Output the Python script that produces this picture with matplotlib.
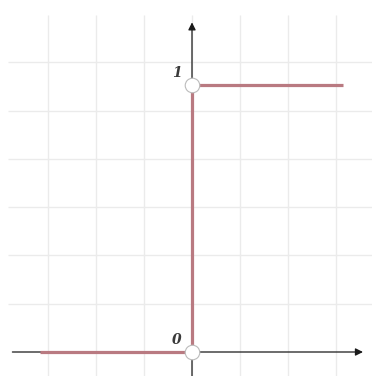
import matplotlib.pyplot as plt
import numpy as np

# step function: 0 for x < 0, 1 for x > 0
x_left = [-3.17, 0]
y_left = [0, 0]
x_right = [0, 3.15]
y_right = [1, 1]
x_jump = [0, 0]
y_jump = [0, 1]
open_x = [0, 0]
open_y = [0, 1]
labels = ['0', '1']

fig = plt.figure(figsize=(3.72, 3.76), dpi=100)
ax = fig.add_axes([0, 0, 1, 1])

unit = 48.3 / 267  # grid step in y units
ax.set_xlim(-4.0, 3.75)
ax.set_ylim(-24 / 267, 352 / 267)

# faint grid
grid_top = 337 / 267
grid_left = -3.83
ax.vlines(np.arange(-3, 4), -0.2, grid_top, color='#ebebeb', lw=1.0, zorder=0)
ax.hlines([k * unit for k in range(1, 7)], grid_left, 4, color='#ebebeb', lw=1.0, zorder=0)

# axes with arrows
ax.annotate('', xy=(3.62, 0), xytext=(-3.8, 0),
            arrowprops=dict(arrowstyle='-|>', color='#1a1a1a', lw=0.9, mutation_scale=11))
ax.annotate('', xy=(0, 1.245), xytext=(0, -0.1),
            arrowprops=dict(arrowstyle='-|>', color='#1a1a1a', lw=0.9, mutation_scale=11))

red = '#b97a81'
ax.plot(x_left, y_left, color=red, lw=2.3, solid_capstyle='butt', zorder=3)
ax.plot(x_right, y_right, color=red, lw=2.3, solid_capstyle='butt', zorder=3)
ax.plot(x_jump, y_jump, color=red, lw=2.3, solid_capstyle='butt', zorder=3)
ax.scatter(open_x, open_y, s=110, facecolor='white', edgecolor='#bbbbbb', lw=0.8, zorder=4)

for yv, lab in zip(open_y, labels):
    ax.text(-0.31, yv + 0.045, lab, fontsize=10, family='DejaVu Serif', style='italic',
            fontweight='bold', color='#3a3a3a', ha='center', va='center')

ax.axis('off')
fig.savefig('out.png', dpi=100)
